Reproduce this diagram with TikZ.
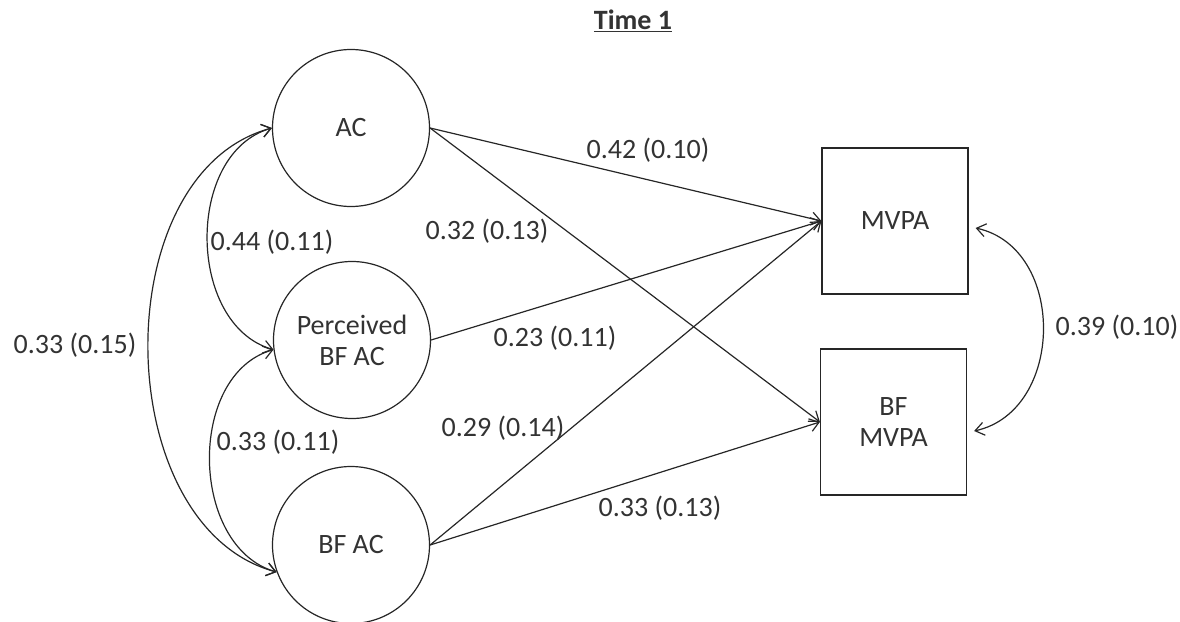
\documentclass[tikz,border=0pt]{standalone}
\usepackage{fontspec}
\setmainfont{Carlito}
\usetikzlibrary{arrows.meta}
\definecolor{ink}{HTML}{262626}
\definecolor{txt}{HTML}{333333}
\begin{document}
\begin{tikzpicture}[x=1pt,y=-1pt,
  every node/.style={text=txt,font=\fontsize{28}{32}\selectfont},
  latent/.style={circle,draw=ink,line width=1.2pt,minimum size=157pt,inner sep=0pt,align=center},
  observed/.style={rectangle,draw=ink,line width=1.2pt,minimum width=146pt,minimum height=146pt,inner sep=0pt,align=center},
  path/.style={draw=ink,line width=1.2pt,-{Straight Barb[length=9pt,width=13pt,line width=1.2pt]}},
  cov/.style={draw=ink,line width=1.2pt,{Straight Barb[length=9pt,width=13pt,line width=1.2pt]}-{Straight Barb[length=9pt,width=13pt,line width=1.2pt]}},
  est/.style={inner sep=1pt}]
\useasboundingbox (0,0) rectangle (1180,621);

% title
\node (title) at (633,21) {\textbf{\underline{Time 1}}};

% latent variables
\node[latent] (ac) at (351,128) {AC};
\node[latent] (pbf) at (352,340) {Perceived\\[-1pt]BF AC};
\node[latent] (bfac) at (351,545) {BF AC};

% observed outcomes
\node[observed] (mvpa) at (895,221) {MVPA};
\node[observed] (bfmvpa) at (893.5,422) {BF\\[-1pt]MVPA};

% regression paths
\draw[path] (ac.east) -- (mvpa.west);
\draw[path] (ac.east) -- (bfmvpa.west);
\draw[path] (pbf.east) -- (mvpa.west);
\draw[path] (bfac.east) -- (mvpa.west);
\draw[path] (bfac.east) -- (bfmvpa.west);

% covariances among predictors
\draw[cov] (ac.west) .. controls +(-87,25) and +(-87,-25) .. (pbf.187);
\draw[cov] (pbf.187) .. controls +(-87,25) and +(-87,-25) .. (bfac.200);
\draw[cov] (ac.west) .. controls +(-168,45) and +(-168,-45) .. (bfac.200);

% residual covariance of outcomes
\coordinate (m1) at ([shift={(7pt,-7pt)}]mvpa.east);
\coordinate (m2) at ([shift={(7pt,-9pt)}]bfmvpa.east);
\draw[cov] (m1) .. controls +(91,20) and +(91,-20) .. (m2);

% estimates
\node[est] (e1) at (648,150) {0.42 (0.10)};
\node[est] (e2) at (487,231) {0.32 (0.13)};
\node[est] (e3) at (555,338) {0.23 (0.11)};
\node[est] (e4) at (503,428) {0.29 (0.14)};
\node[est] (e5) at (660,508) {0.33 (0.13)};
\node[est] (e6) at (272,242) {0.44 (0.11)};
\node[est] (e7) at (278,442) {0.33 (0.11)};
\node[est] (e8) at (75,345) {0.33 (0.15)};
\node[est] (e9) at (1117,327) {0.39 (0.10)};
\end{tikzpicture}
\end{document}
